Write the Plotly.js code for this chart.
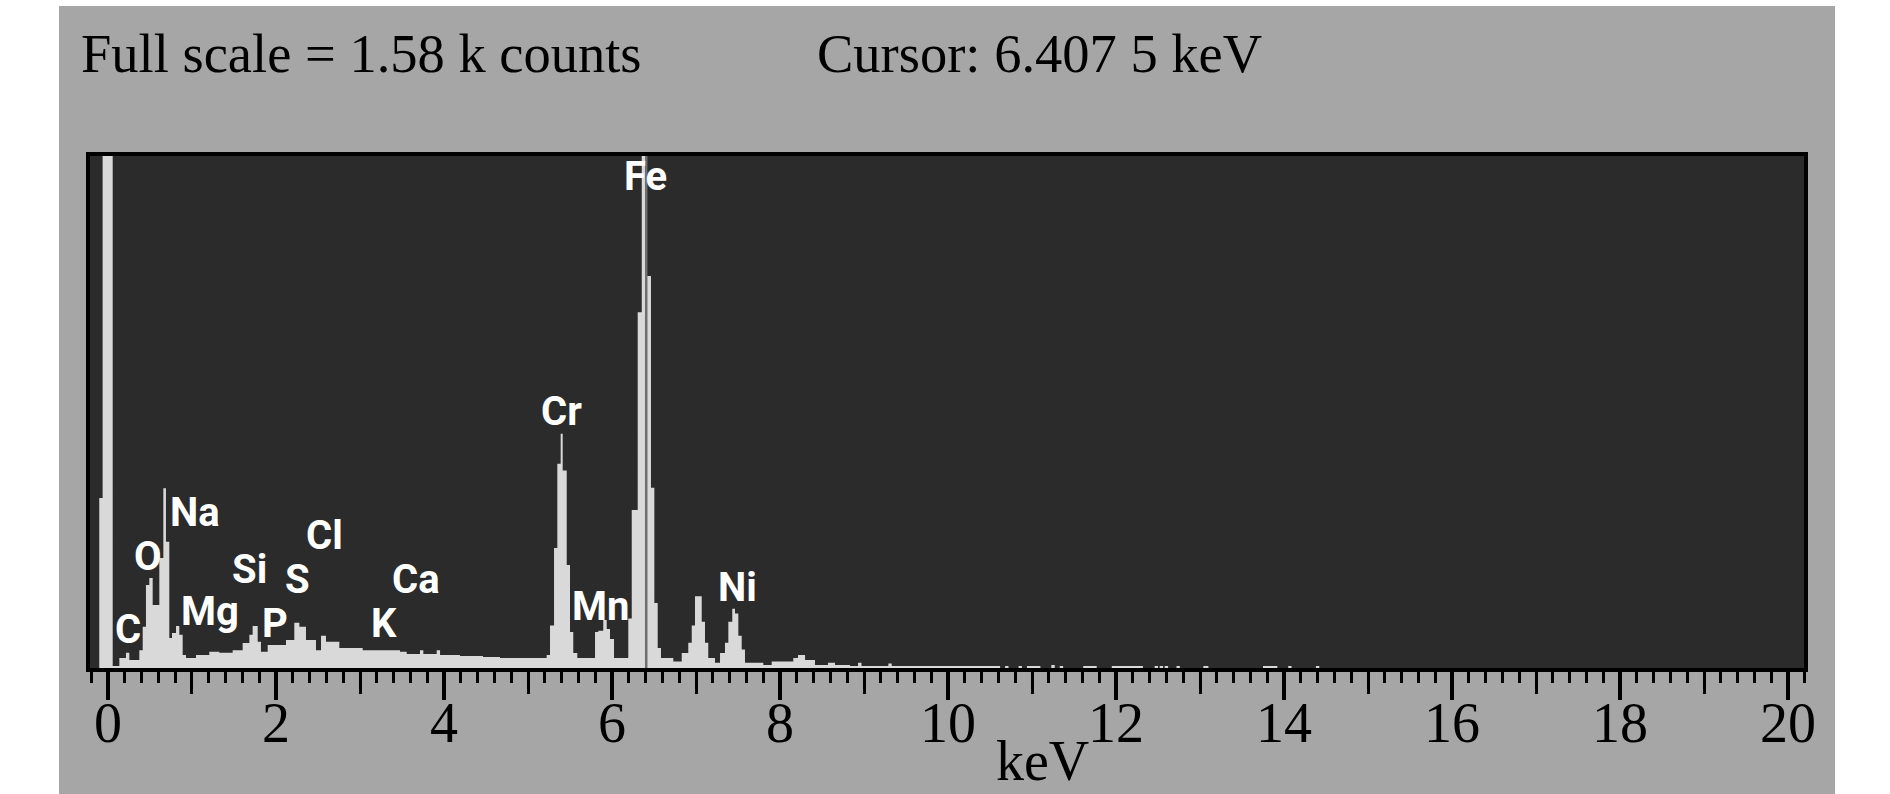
<!DOCTYPE html>
<html>
<head>
<meta charset="utf-8">
<script src="https://cdn.plot.ly/plotly-3.0.1.min.js"></script>
<style>
  html, body { margin: 0; padding: 0; background: #ffffff; }
  #chart { width: 1890px; height: 794px; }
</style>
</head>
<body>
<div id="chart"></div>
<script>
// EDS spectrum: step start (keV) and counts of that step
const energy = [
  -0.238, -0.104, -0.064, 0.056, 0.135, 0.214, 0.254, 0.373, 0.413, 0.452,
  0.492, 0.532, 0.611, 0.659, 0.690, 0.730, 0.762, 0.810, 0.849, 0.889,
  0.929, 1.048, 1.206, 1.325, 1.484, 1.603, 1.683, 1.722, 1.782, 1.821,
  1.901, 2.119, 2.218, 2.278, 2.357, 2.476, 2.536, 2.595, 2.754, 3.032,
  3.476, 3.556, 3.714, 3.754, 3.913, 3.953, 4.190, 4.464, 4.667, 5.222,
  5.262, 5.310, 5.349, 5.389, 5.413, 5.461, 5.500, 5.539, 5.587, 5.798,
  5.837, 5.896, 5.937, 5.976, 6.024, 6.194, 6.235, 6.306, 6.354, 6.405,
  6.464, 6.504, 6.544, 6.583, 6.730, 6.830, 6.908, 6.949, 6.988, 7.068,
  7.107, 7.146, 7.226, 7.286, 7.345, 7.385, 7.432, 7.464, 7.504, 7.544,
  7.583, 7.801, 7.901, 8.158, 8.214, 8.298, 8.417, 8.571, 8.655, 8.833,
  8.929, 8.970, 9.290, 9.330, 10.62, 10.68, 10.72, 10.84, 10.88, 10.94,
  11.10, 11.23, 11.27, 11.33, 11.37, 11.61, 11.77, 11.95, 12.32, 12.46,
  12.50, 12.52, 12.56, 12.58, 12.62, 12.72, 12.76, 13.04, 13.10, 13.75,
  13.92, 14.05, 14.09, 14.38, 14.42, 20.25
]
const counts = [
  0, 529, 2000, 12, 37, 53, 31, 61, 133, 261,
  283, 200, 344, 559, 394, 98, 114, 135, 108, 46,
  37, 46, 56, 53, 61, 83, 108, 135, 87, 56,
  77, 92, 145, 133, 92, 61, 105, 87, 68, 61,
  56, 49, 61, 49, 61, 46, 43, 40, 37, 46,
  137, 375, 634, 726, 613, 323, 117, 52, 37, 117,
  121, 154, 126, 95, 37, 158, 492, 1100, 2100, 1211,
  560, 206, 68, 37, 26, 52, 84, 137, 227, 148,
  84, 37, 22, 52, 84, 148, 188, 174, 105, 63,
  22, 15, 26, 37, 46, 31, 15, 22, 15, 12,
  22, 12, 20, 12, 0, 12, 0, 12, 0, 12,
  0, 15, 0, 12, 0, 12, 0, 12, 0, 12,
  0, 12, 0, 12, 0, 12, 0, 12, 0, 12,
  0, 12, 0, 12, 0, 0
]

const fullScale = 1.58 // k counts
const cursorKeV = 6.4075
const evenTicks = [0, 2, 4, 6, 8, 10, 12, 14, 16, 18, 20]
const oddTicks = [1, 3, 5, 7, 9, 11, 13, 15, 17, 19]

// element labels and where they sit (keV, counts)
const elements = ["C", "O", "Na", "Mg", "Si", "P", "S", "Cl", "K", "Ca", "Cr", "Mn", "Fe", "Ni"]
const elementKeV = [0.235, 0.473, 1.036, 1.22, 1.69, 1.988, 2.25, 2.583, 3.28, 3.667, 5.399, 5.863, 6.399, 7.494]
const elementCounts = [123, 350, 483, 180, 310, 144, 277, 412, 144, 277, 796, 195, 1518, 255]

const serif = "Liberation Serif, Times New Roman, serif"
const labelFont = { family: "Roboto, DejaVu Sans, sans-serif", size: 40, color: "#ffffff", weight: "bold" }

const spectrum = {
  x: energy,
  y: counts,
  type: "scatter",
  mode: "lines",
  line: { shape: "hv", width: 0, color: "#d9d9d9" },
  fill: "tozeroy",
  fillcolor: "#d9d9d9",
  hoverinfo: "skip",
}
// empty traces so the extra tick axes get drawn
const tickHolder = axis => ({ x: [], y: [], type: "scatter", mode: "lines", xaxis: axis, yaxis: "y", hoverinfo: "skip" })

const annotations = elements.map((el, i) => ({
  text: el,
  x: elementKeV[i],
  y: elementCounts[i],
  xref: "x",
  yref: "y",
  showarrow: false,
  xanchor: "center",
  yanchor: "middle",
  font: labelFont,
}))

annotations.push(
  {
    text: `Full scale = ${fullScale} k counts`,
    xref: "paper", yref: "paper", x: -0.0053, y: 1.194,
    xanchor: "left", yanchor: "middle", showarrow: false,
    font: { family: serif, size: 54.5, color: "#000000" },
  },
  {
    text: "Cursor: 6.407 5 keV",
    xref: "paper", yref: "paper", x: 0.4231, y: 1.194,
    xanchor: "left", yanchor: "middle", showarrow: false,
    font: { family: serif, size: 54.5, color: "#000000" },
  },
  {
    text: "keV",
    xref: "x", yref: "paper", x: 11.13, y: -0.2384,
    xanchor: "center", yanchor: "bottom", showarrow: false, borderpad: 0,
    font: { family: serif, size: 56, color: "#000000" },
  }
)

const xRange = [-0.238, 20.214]
const tickAxis = extra => Object.assign({
  range: xRange,
  overlaying: "x",
  anchor: "y",
  side: "bottom",
  ticks: "outside",
  tickcolor: "#000000",
  showticklabels: false,
  showgrid: false,
  zeroline: false,
  showline: false,
  fixedrange: true,
}, extra)

const layout = {
  width: 1890,
  height: 794,
  autosize: false,
  margin: { l: 88, r: 84, t: 154, b: 124, pad: 0 },
  paper_bgcolor: "#a6a6a6",
  plot_bgcolor: "#2b2b2b",
  showlegend: false,
  // labelled axis: short ticks so the numbers sit close to the frame
  xaxis: {
    range: xRange,
    tickvals: evenTicks,
    ticks: "outside",
    ticklen: 4,
    tickwidth: 4,
    tickcolor: "#000000",
    showline: false,
    showgrid: false,
    zeroline: false,
    tickfont: { family: serif, size: 56, color: "#000000" },
    fixedrange: true,
  },
  // long ticks at even keV plus the 0.2 keV minor ticks
  xaxis2: tickAxis({
    tickvals: evenTicks,
    ticklen: 29,
    tickwidth: 4,
    minor: { dtick: 0.2, tick0: 0, ticks: "outside", ticklen: 12, tickwidth: 3, tickcolor: "#000000" },
  }),
  // medium ticks at odd keV
  xaxis3: tickAxis({ tickvals: oddTicks, ticklen: 23, tickwidth: 3 }),
  yaxis: {
    range: [0, fullScale * 1000 * 516 / 514],
    showticklabels: false,
    ticks: "",
    showgrid: false,
    zeroline: false,
    fixedrange: true,
  },
  shapes: [
    // white page outside the grey panel
    { type: "rect", xref: "paper", yref: "paper", x0: -0.06, x1: -0.0169, y0: -0.3, y1: 1.31, fillcolor: "#ffffff", line: { width: 0 }, layer: "below" },
    { type: "rect", xref: "paper", yref: "paper", x0: 1.0169, x1: 1.06, y0: -0.3, y1: 1.31, fillcolor: "#ffffff", line: { width: 0 }, layer: "below" },
    { type: "rect", xref: "paper", yref: "paper", x0: -0.06, x1: 1.06, y0: 1.2868, y1: 1.31, fillcolor: "#ffffff", line: { width: 0 }, layer: "below" },
    // cursor
    { type: "line", xref: "x", yref: "paper", x0: cursorKeV, x1: cursorKeV, y0: 0, y1: 1, line: { color: "#6e6e6e", width: 2.5 } },
    // frame
    { type: "rect", xref: "paper", yref: "paper", x0: 0, x1: 1, y0: 0, y1: 1, line: { color: "#000000", width: 4 }, layer: "above" },
  ],
  annotations: annotations,
}

Plotly.newPlot("chart", [spectrum, tickHolder("x2"), tickHolder("x3")], layout, { staticPlot: true, displayModeBar: false })
</script>
</body>
</html>
